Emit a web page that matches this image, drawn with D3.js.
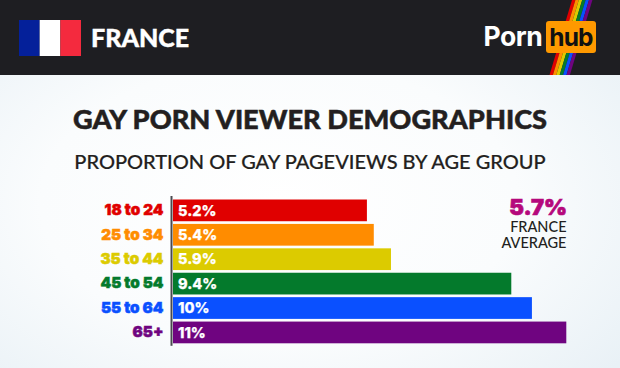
<!DOCTYPE html>
<html>
<head>
<meta charset="utf-8">
<script src="https://cdn.jsdelivr.net/npm/d3@7"></script>
<style>
  html, body { margin: 0; padding: 0; background: #fff; }
  svg { display: block; }
</style>
</head>
<body>
<div id="chart"></div>
<script>
const ageGroups = ['18 to 24', '25 to 34', '35 to 44', '45 to 54', '55 to 64', '65+'];
const pageviewShare = [5.2, 5.4, 5.9, 9.4, 10, 11];
const shareLabels = ['5.2%', '5.4%', '5.9%', '9.4%', '10%', '11%'];
const barColors = ['#e00000', '#ff8c00', '#dccb00', '#047a2c', '#0a50ff', '#6f0480'];
const rainbow = ['#e00000', '#ff8c00', '#dccb00', '#047a2c', '#0a50ff', '#6f0480'];
const flagColors = ['#04209a', '#ffffff', '#f42a3e'];

const width = 620;
const height = 368;
const headFont = 'Lato, "Open Sans", sans-serif';
const markFont = 'Inter, Roboto, sans-serif';

const svg = d3.select('#chart').append('svg')
  .attr('width', width)
  .attr('height', height)
  .attr('viewBox', `0 0 ${width} ${height}`);

// Background
const grad = svg.append('defs').append('radialGradient')
  .attr('id', 'bg')
  .attr('cx', '45%').attr('cy', '55%').attr('r', '70%');
grad.append('stop').attr('offset', '0%').attr('stop-color', '#ffffff');
grad.append('stop').attr('offset', '55%').attr('stop-color', '#fafcfd');
grad.append('stop').attr('offset', '100%').attr('stop-color', '#e9f1f6');
svg.append('rect').attr('width', width).attr('height', height).attr('fill', 'url(#bg)');

// Header band
svg.append('rect').attr('width', width).attr('height', 75).attr('fill', '#1e1e22');

const flag = d3.scaleBand().domain(d3.range(3)).range([19, 81]);
svg.selectAll('.flag')
  .data(flagColors)
  .enter()
  .append('rect')
  .attr('class', 'flag')
  .attr('x', (d, i) => flag(i))
  .attr('y', 20)
  .attr('width', flag.bandwidth())
  .attr('height', 36)
  .attr('fill', d => d);

svg.append('text')
  .attr('x', 91).attr('y', 47)
  .attr('fill', '#fff')
  .attr('stroke', '#fff')
  .attr('stroke-width', 0.4)
  .attr('font-family', headFont)
  .attr('font-size', 25)
  .attr('font-weight', 900)
  .text('FRANCE');

// Logo
const stripe = 3.4;
svg.selectAll('.stripe')
  .data(rainbow)
  .enter()
  .append('path')
  .attr('class', 'stripe')
  .attr('d', (d, i) => {
    const top = 572 + i * stripe;
    const bot = 549.5 + i * stripe;
    return `M${top},0L${top + stripe},0L${bot + stripe},75L${bot},75Z`;
  })
  .attr('fill', d => d);

svg.append('text')
  .attr('x', 483.5).attr('y', 46)
  .attr('fill', '#fff')
  .attr('font-family', 'Inter, Roboto, sans-serif')
  .attr('font-size', 26.5)
  .attr('font-weight', 700)
  .attr('letter-spacing', -0.5)
  .text('Porn');

svg.append('rect')
  .attr('x', 546).attr('y', 21)
  .attr('width', 50).attr('height', 32)
  .attr('rx', 3)
  .attr('fill', '#ff9900');

svg.append('text')
  .attr('x', 571).attr('y', 46)
  .attr('text-anchor', 'middle')
  .attr('fill', '#111')
  .attr('font-family', 'Inter, Roboto, sans-serif')
  .attr('font-size', 24.5)
  .attr('font-weight', 700)
  .attr('letter-spacing', -0.8)
  .text('hub');

// Titles
svg.append('text')
  .attr('x', 310).attr('y', 129)
  .attr('text-anchor', 'middle')
  .attr('fill', '#231f20')
  .attr('stroke', '#231f20')
  .attr('stroke-width', 0.5)
  .attr('font-family', headFont)
  .attr('font-size', 27.2)
  .attr('font-weight', 900)
  .text('GAY PORN VIEWER DEMOGRAPHICS');

svg.append('text')
  .attr('x', 310).attr('y', 169)
  .attr('text-anchor', 'middle')
  .attr('fill', '#231f20')
  .attr('stroke', '#231f20')
  .attr('stroke-width', 0.2)
  .attr('font-family', headFont)
  .attr('font-size', 20)
  .attr('font-weight', 500)
  .text('PROPORTION OF GAY PAGEVIEWS BY AGE GROUP');

// Scales
const barLeft = 173;
const x = d3.scaleLinear().domain([-0.42, 11]).range([173.7, 566.3]);
const y = d3.scaleBand()
  .domain(ageGroups)
  .range([199.5, 343.3])
  .paddingInner(0.11)
  .paddingOuter(0);

// Bars
svg.selectAll('.bar')
  .data(pageviewShare)
  .enter()
  .append('rect')
  .attr('class', 'bar')
  .attr('x', barLeft)
  .attr('y', (d, i) => y(ageGroups[i]))
  .attr('width', d => x(d) - barLeft)
  .attr('height', y.bandwidth())
  .attr('fill', (d, i) => barColors[i]);

// Value labels
svg.selectAll('.value')
  .data(shareLabels)
  .enter()
  .append('text')
  .attr('class', 'value')
  .attr('x', 178)
  .attr('y', (d, i) => y(ageGroups[i]) + y.bandwidth() / 2)
  .attr('dy', '0.36em')
  .attr('fill', '#fff')
  .attr('stroke', '#fff')
  .attr('stroke-width', 0.25)
  .attr('font-family', markFont)
  .attr('font-size', 14.5)
  .attr('font-weight', 800)
  .text(d => d);

// Y axis
const axis = svg.append('g')
  .attr('transform', 'translate(171.5,0)')
  .call(d3.axisLeft(y).tickSize(0).tickPadding(8));
axis.select('.domain').remove();
axis.selectAll('text')
  .attr('fill', (d, i) => barColors[i])
  .attr('stroke', (d, i) => barColors[i])
  .attr('stroke-width', 0.5)
  .attr('font-family', markFont)
  .attr('font-size', 15.2)
  .attr('font-weight', 900);
axis.append('line')
  .attr('y1', y.range()[0] - 3.5)
  .attr('y2', y.range()[1] + 2.5)
  .attr('stroke', '#4a4a50')
  .attr('stroke-width', 2);

// Average callout
svg.append('text')
  .attr('x', 567).attr('y', 214.5)
  .attr('text-anchor', 'end')
  .attr('fill', '#b5087c')
  .attr('stroke', '#b5087c')
  .attr('stroke-width', 0.7)
  .attr('font-family', markFont)
  .attr('font-size', 22)
  .attr('font-weight', 900)
  .text('5.7%');

svg.append('text')
  .attr('x', 566.5).attr('y', 232)
  .attr('text-anchor', 'end')
  .attr('fill', '#231f20')
  .attr('font-family', headFont)
  .attr('font-size', 14.5)
  .attr('font-weight', 500)
  .text('FRANCE');

svg.append('text')
  .attr('x', 566.5).attr('y', 248)
  .attr('text-anchor', 'end')
  .attr('fill', '#231f20')
  .attr('font-family', headFont)
  .attr('font-size', 14.5)
  .attr('font-weight', 500)
  .text('AVERAGE');
</script>
</body>
</html>
